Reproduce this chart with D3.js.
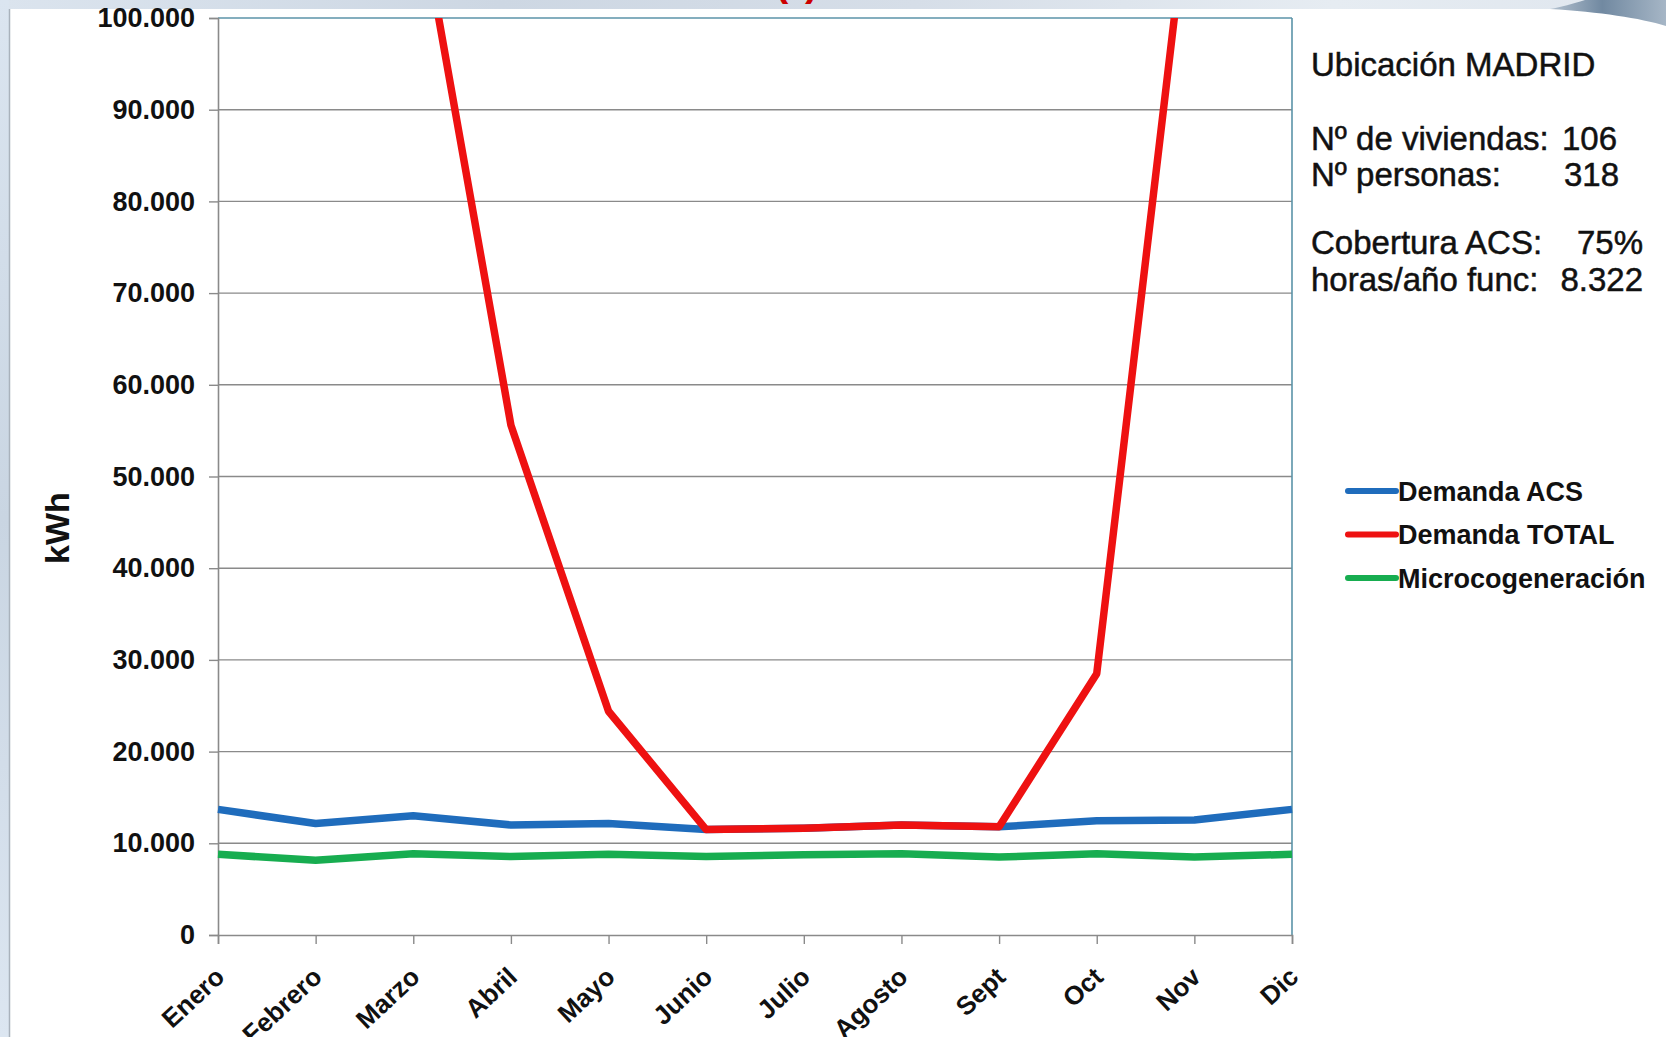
<!DOCTYPE html>
<html lang="es">
<head>
<meta charset="utf-8">
<title>Demanda mensual - Madrid</title>
<script src="https://cdn.jsdelivr.net/npm/d3@7/dist/d3.min.js"></script>
<style>
  html, body { margin: 0; padding: 0; background: #ffffff; }
  svg { display: block; }
  text { font-family: "Liberation Sans", Arial, sans-serif; }
</style>
</head>
<body>
<svg id="chart" width="1666" height="1037"></svg>
<script>
// Monthly energy figures (kWh)
const months = ["Enero", "Febrero", "Marzo", "Abril", "Mayo", "Junio",
                "Julio", "Agosto", "Sept", "Oct", "Nov", "Dic"];
const demandaACS = [13700, 12150, 13000, 12000, 12150, 11500, 11650, 12000, 11800, 12450, 12550, 13700];
const demandaTotal = [150000, 135000, 115600, 55600, 24400, 11500, 11650, 12000, 11800, 28500, 118500, 145000];
const microcogeneracion = [8800, 8150, 8850, 8550, 8800, 8550, 8750, 8850, 8500, 8850, 8500, 8800];
const yTicks = [0, 10000, 20000, 30000, 40000, 50000, 60000, 70000, 80000, 90000, 100000];

const seriesNames = ["Demanda ACS", "Demanda TOTAL", "Microcogeneración"];
const seriesColors = ["#1f6cbc", "#ee1111", "#17ad50"];

// Info block
const infoTitle = "Ubicación MADRID";
const infoLabels = ["Nº de viviendas:", "Nº personas:", "Cobertura ACS:", "horas/año func:"];
const infoValues = ["106", "318", "75%", "8.322"];

const svg = d3.select("#chart");
const W = 1666, H = 1037;

// ---- backdrop: slide band and left strip ----
const defs = svg.append("defs");
const bandGrad = defs.append("linearGradient").attr("id", "band").attr("x1", 0).attr("x2", 1);
bandGrad.append("stop").attr("offset", "0%").attr("stop-color", "#dbe4ee");
bandGrad.append("stop").attr("offset", "30%").attr("stop-color", "#cdd7e3");
bandGrad.append("stop").attr("offset", "55%").attr("stop-color", "#d6dee8");
bandGrad.append("stop").attr("offset", "80%").attr("stop-color", "#e6ecf2");
bandGrad.append("stop").attr("offset", "100%").attr("stop-color", "#dfe6ee");
const stripGrad = defs.append("linearGradient").attr("id", "strip").attr("x1", 0).attr("x2", 0).attr("y1", 0).attr("y2", 1);
stripGrad.append("stop").attr("offset", "0%").attr("stop-color", "#dbe5f0");
stripGrad.append("stop").attr("offset", "50%").attr("stop-color", "#c9d5e2");
stripGrad.append("stop").attr("offset", "100%").attr("stop-color", "#dce6f1");
const swoosh = defs.append("linearGradient").attr("id", "swoosh").attr("x1", 0).attr("x2", 1);
swoosh.append("stop").attr("offset", "0%").attr("stop-color", "#b3c1cf");
swoosh.append("stop").attr("offset", "45%").attr("stop-color", "#7189a1");
swoosh.append("stop").attr("offset", "100%").attr("stop-color", "#a6b6c6");

svg.append("rect").attr("x", 0).attr("y", 0).attr("width", W).attr("height", H).attr("fill", "#ffffff");
svg.append("rect").attr("x", 0).attr("y", 0).attr("width", W).attr("height", 9).attr("fill", "url(#band)");
svg.append("rect").attr("x", 0).attr("y", 0).attr("width", 9).attr("height", H).attr("fill", "url(#strip)");
svg.append("line").attr("x1", 9.5).attr("x2", 9.5).attr("y1", 9).attr("y2", H)
  .attr("stroke", "#a9b2bc").attr("stroke-width", 1.5);
svg.append("path")
  .attr("d", "M1550,9 C1600,12 1640,18 1666,26 L1666,0 L1585,0 C1572,4 1562,7 1550,9 Z")
  .attr("fill", "url(#swoosh)");
// clipped title parentheses peeking in the top band
const topClip = defs.append("clipPath").attr("id", "topband");
topClip.append("rect").attr("x", 0).attr("y", 0).attr("width", W).attr("height", 9);
const topG = svg.append("g").attr("clip-path", "url(#topband)");
topG.append("text").attr("x", 775).attr("y", -4).attr("font-size", 40).attr("font-weight", "bold")
  .attr("fill", "#cc0000").text("(");
topG.append("text").attr("x", 805).attr("y", -4).attr("font-size", 40).attr("font-weight", "bold")
  .attr("fill", "#cc0000").text(")");

// ---- scales ----
const plot = { left: 218, right: 1292, top: 18, bottom: 935 };
const x = d3.scalePoint().domain(months).range([plot.left, plot.right]).padding(0);
const y = d3.scaleLinear().domain([0, 100000]).range([plot.bottom, plot.top]);
const es = d3.formatLocale({ decimal: ",", thousands: ".", grouping: [3], currency: ["", " €"] });
const fmt = es.format(",");

// plot area
svg.append("rect").attr("x", plot.left).attr("y", plot.top)
  .attr("width", plot.right - plot.left).attr("height", plot.bottom - plot.top).attr("fill", "#ffffff");

// gridlines
svg.append("g").selectAll("line").data(yTicks.filter(d => d > 0 && d < 100000)).join("line")
  .attr("x1", plot.left).attr("x2", plot.right)
  .attr("y1", d => y(d)).attr("y2", d => y(d))
  .attr("stroke", "#8a8a8a").attr("stroke-width", 1.4);

// plot border: top/right in teal
svg.append("line").attr("x1", plot.left).attr("x2", plot.right).attr("y1", plot.top).attr("y2", plot.top)
  .attr("stroke", "#5b93a8").attr("stroke-width", 1.6);
svg.append("line").attr("x1", plot.right).attr("x2", plot.right).attr("y1", plot.top).attr("y2", plot.bottom)
  .attr("stroke", "#5b93a8").attr("stroke-width", 1.6);

// y axis
const yAxis = d3.axisLeft(y).tickValues(yTicks).tickFormat(fmt).tickSize(9).tickPadding(14);
const gy = svg.append("g").attr("transform", `translate(${plot.left},0)`).call(yAxis);
gy.select(".domain").attr("stroke", "#8a8a8a").attr("stroke-width", 1.6);
gy.selectAll(".tick line").attr("stroke", "#8a8a8a").attr("stroke-width", 1.4);
gy.selectAll(".tick text").attr("fill", "#111").attr("font-size", 27).attr("font-weight", "bold")
  .attr("font-family", "'Liberation Sans', Arial, sans-serif");

// x axis
const xAxis = d3.axisBottom(x).tickSize(9).tickFormat("");
const gx = svg.append("g").attr("transform", `translate(0,${plot.bottom})`).call(xAxis);
gx.select(".domain").attr("stroke", "#8a8a8a").attr("stroke-width", 1.6);
gx.selectAll(".tick line").attr("stroke", "#8a8a8a").attr("stroke-width", 1.4);
svg.append("g").selectAll("text").data(months).join("text")
  .attr("transform", d => `translate(${x(d) + 8},979) rotate(-43)`)
  .attr("text-anchor", "end")
  .attr("font-size", 26).attr("font-weight", "bold").attr("fill", "#111")
  .text(d => d);

// y title
svg.append("text")
  .attr("transform", "translate(69,528) rotate(-90)")
  .attr("text-anchor", "middle")
  .attr("font-size", 34).attr("font-weight", "bold").attr("fill", "#111")
  .text("kWh");

// ---- lines ----
const clip = defs.append("clipPath").attr("id", "plotclip");
clip.append("rect").attr("x", plot.left - 6).attr("y", plot.top)
  .attr("width", plot.right - plot.left + 12).attr("height", plot.bottom - plot.top + 10);

const line = d3.line().x((d, i) => x(months[i])).y(d => y(d));
const lineData = [
  { name: seriesNames[2], values: microcogeneracion, color: seriesColors[2] },
  { name: seriesNames[0], values: demandaACS, color: seriesColors[0] },
  { name: seriesNames[1], values: demandaTotal, color: seriesColors[1] }
];
svg.append("g").attr("clip-path", "url(#plotclip)")
  .selectAll("path").data(lineData).join("path")
  .attr("d", d => line(d.values))
  .attr("fill", "none")
  .attr("stroke", d => d.color)
  .attr("stroke-width", 7.5)
  .attr("stroke-linejoin", "round");

// ---- legend ----
const legend = svg.append("g").selectAll("g").data(seriesNames).join("g")
  .attr("transform", (d, i) => `translate(1348,${491 + i * 43.5})`);
legend.append("line").attr("x1", 0).attr("x2", 48).attr("y1", 0).attr("y2", 0)
  .attr("stroke", (d, i) => seriesColors[i]).attr("stroke-width", 6).attr("stroke-linecap", "round");
legend.append("text").attr("x", 50).attr("y", 9.5)
  .attr("font-size", 27).attr("font-weight", "bold").attr("fill", "#111")
  .text(d => d);

// ---- info block ----
const info = svg.append("g").attr("fill", "#111").attr("stroke", "#111").attr("stroke-width", 0.5)
  .attr("font-size", 33);
info.append("text").attr("x", 1311).attr("y", 76).text(infoTitle);
const infoY = [150, 186, 254, 291];
const infoRight = [1617, 1619, 1643, 1643];
info.selectAll("text.lab").data(infoLabels).join("text").attr("class", "lab")
  .attr("x", 1311).attr("y", (d, i) => infoY[i]).text(d => d);
info.selectAll("text.val").data(infoValues).join("text").attr("class", "val")
  .attr("x", (d, i) => infoRight[i]).attr("y", (d, i) => infoY[i])
  .attr("text-anchor", "end").text(d => d);
</script>
</body>
</html>
